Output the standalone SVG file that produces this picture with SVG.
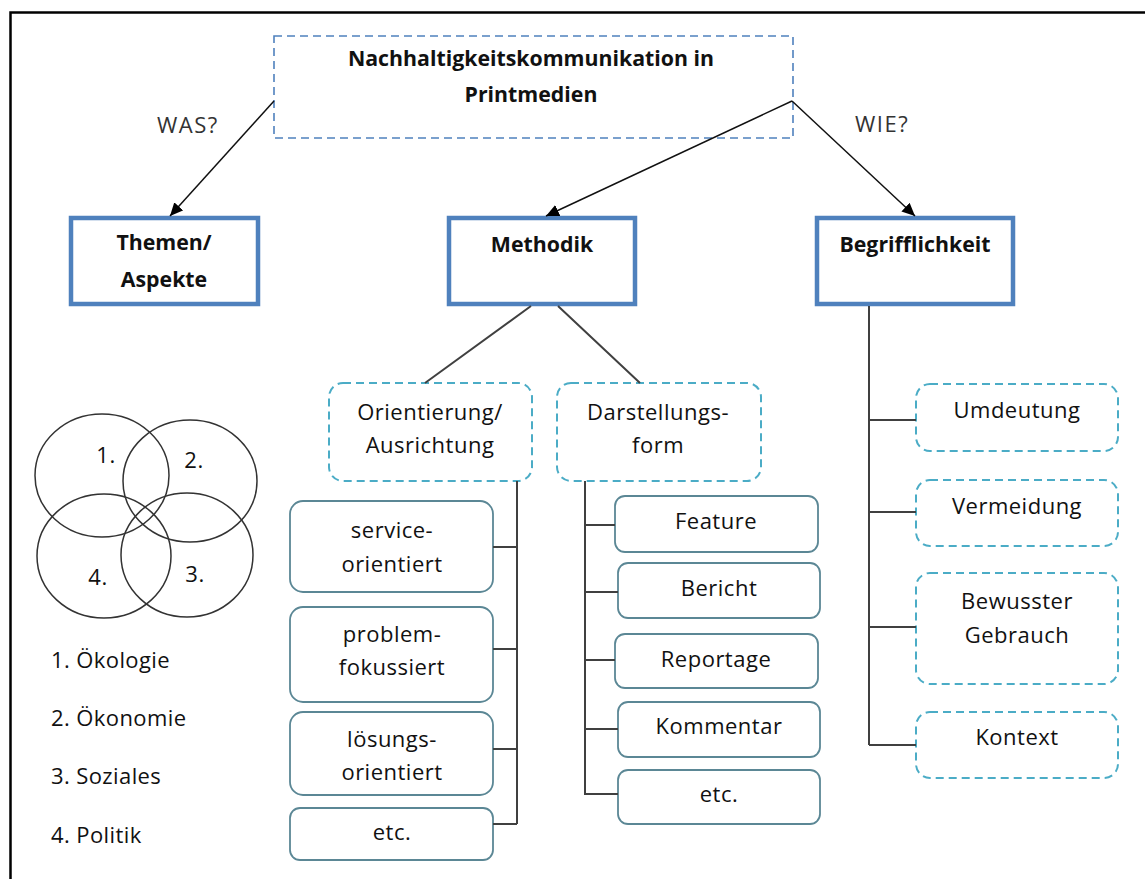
<svg xmlns="http://www.w3.org/2000/svg" width="1145" height="879" viewBox="0 0 1145 879">
<defs>
<marker id="ah" markerUnits="userSpaceOnUse" markerWidth="14" markerHeight="12" refX="13" refY="6" orient="auto">
<path d="M0,0 L13,6 L0,12 z" fill="#000"/>
</marker>
<style>
text{font-family:"Open Sans",Lato,"Liberation Sans",sans-serif;fill:#111;text-anchor:middle}
.b{font-weight:bold;font-size:21.3px}
.r{font-size:22px;letter-spacing:0.5px}
.q{font-size:22px;letter-spacing:1.5px;fill:#333;text-anchor:start}
.lg{font-size:22px;letter-spacing:0.4px;text-anchor:start}
.top{fill:#fff;stroke:#4f81bd;stroke-width:1.6;stroke-dasharray:8 5}
.main{fill:#fff;stroke:#4f81bd;stroke-width:4.5}
.dash{fill:#fff;stroke:#4bacc6;stroke-width:2;stroke-dasharray:8 5}
.solid{fill:#fff;stroke:#5b8795;stroke-width:1.8}
.arr{stroke:#111;stroke-width:1.5;fill:none;marker-end:url(#ah)}
.con{stroke:#404040;stroke-width:2;fill:none}
.circ{fill:none;stroke:#333;stroke-width:1.5}
</style>
</defs>
<rect x="0" y="0" width="1145" height="879" fill="#fff"/>
<rect x="10.5" y="12.5" width="1200" height="1000" fill="none" stroke="#000" stroke-width="2.5"/>

<g id="was-label"><text class="q" x="157" y="133">WAS?</text></g>
<g id="wie-label"><text class="q" x="855" y="132">WIE?</text></g>

<g id="root">
<rect class="top" x="274" y="36" width="519" height="102"/>
<text class="b" x="531" y="66">Nachhaltigkeitskommunikation in</text>
<text class="b" x="531" y="102">Printmedien</text>
</g>

<g id="themen">
<rect class="main" x="71" y="218" width="187" height="86"/>
<text class="b" x="164" y="250">Themen/</text>
<text class="b" x="164" y="287">Aspekte</text>
</g>
<g id="methodik">
<rect class="main" x="449" y="218" width="186" height="86"/>
<text class="b" x="542" y="252">Methodik</text>
</g>
<g id="begrifflichkeit">
<rect class="main" x="817" y="218" width="196" height="86"/>
<text class="b" x="915" y="252">Begrifflichkeit</text>
</g>

<g id="orientierung">
<rect class="dash" x="329" y="383" width="203" height="98" rx="14"/>
<text class="r" x="430" y="420">Orientierung/</text>
<text class="r" x="430" y="453">Ausrichtung</text>
</g>
<g id="darstellungsform">
<rect class="dash" x="557" y="383" width="204" height="98" rx="14"/>
<text class="r" x="658" y="420">Darstellungs-</text>
<text class="r" x="658" y="453">form</text>
</g>

<g id="serviceorientiert">
<rect class="solid" x="290" y="501" width="203" height="91" rx="13"/>
<text class="r" x="392" y="538">service-</text>
<text class="r" x="392" y="572">orientiert</text>
</g>
<g id="problemfokussiert">
<rect class="solid" x="290" y="607" width="203" height="95" rx="13"/>
<text class="r" x="392" y="642">problem-</text>
<text class="r" x="392" y="675">fokussiert</text>
</g>
<g id="loesungsorientiert">
<rect class="solid" x="290" y="712" width="203" height="83" rx="13"/>
<text class="r" x="392" y="747">lösungs-</text>
<text class="r" x="392" y="780">orientiert</text>
</g>
<g id="etc1">
<rect class="solid" x="290" y="808" width="203" height="52" rx="10"/>
<text class="r" x="392" y="840">etc.</text>
</g>

<g id="feature">
<rect class="solid" x="615" y="496" width="203" height="56" rx="10"/>
<text class="r" x="716" y="529">Feature</text>
</g>
<g id="bericht">
<rect class="solid" x="618" y="563" width="202" height="55" rx="10"/>
<text class="r" x="719" y="596">Bericht</text>
</g>
<g id="reportage">
<rect class="solid" x="615" y="634" width="203" height="54" rx="10"/>
<text class="r" x="716" y="667">Reportage</text>
</g>
<g id="kommentar">
<rect class="solid" x="618" y="702" width="202" height="55" rx="10"/>
<text class="r" x="719" y="734">Kommentar</text>
</g>
<g id="etc2">
<rect class="solid" x="618" y="770" width="202" height="54" rx="10"/>
<text class="r" x="719" y="802">etc.</text>
</g>

<g id="umdeutung">
<rect class="dash" x="916" y="384" width="202" height="67" rx="14"/>
<text class="r" x="1017" y="418">Umdeutung</text>
</g>
<g id="vermeidung">
<rect class="dash" x="916" y="480" width="202" height="66" rx="14"/>
<text class="r" x="1017" y="514">Vermeidung</text>
</g>
<g id="bewusster">
<rect class="dash" x="916" y="573" width="202" height="111" rx="14"/>
<text class="r" x="1017" y="609">Bewusster</text>
<text class="r" x="1017" y="643">Gebrauch</text>
</g>
<g id="kontext">
<rect class="dash" x="916" y="712" width="202" height="66" rx="14"/>
<text class="r" x="1017" y="745">Kontext</text>
</g>

<g id="venn">
<ellipse class="circ" cx="102" cy="475.5" rx="67" ry="61.5"/>
<ellipse class="circ" cx="190" cy="481" rx="67" ry="61"/>
<ellipse class="circ" cx="187" cy="555" rx="66" ry="62"/>
<ellipse class="circ" cx="104" cy="556" rx="67" ry="62"/>
<text class="r" x="106" y="463">1.</text>
<text class="r" x="194" y="468">2.</text>
<text class="r" x="195" y="582">3.</text>
<text class="r" x="98" y="585">4.</text>
</g>

<g id="legend">
<text class="lg" x="51" y="668">1. Ökologie</text>
<text class="lg" x="51" y="726">2. Ökonomie</text>
<text class="lg" x="51" y="784">3. Soziales</text>
<text class="lg" x="51" y="843">4. Politik</text>
</g>

<g id="connectors">
<path class="arr" d="M274,101 L170,216"/>
<path class="arr" d="M792,101 L546,216"/>
<path class="arr" d="M792,101 L915,216"/>
<path class="con" stroke-width="1.5" d="M531,306 L425,383 M558,306 L640,383"/>
<path class="con" d="M517,481 V824 M493,547 H517 M493,649 H517 M493,749 H517 M493,824 H517"/>
<path class="con" d="M585,481 V795 M585,525 H615 M585,592 H618 M585,660 H615 M585,729 H618 M585,794 H618"/>
<path class="con" d="M869,306 V745 M869,420 H916 M869,512 H916 M869,627 H916 M869,745 H916"/>
</g>
</svg>
